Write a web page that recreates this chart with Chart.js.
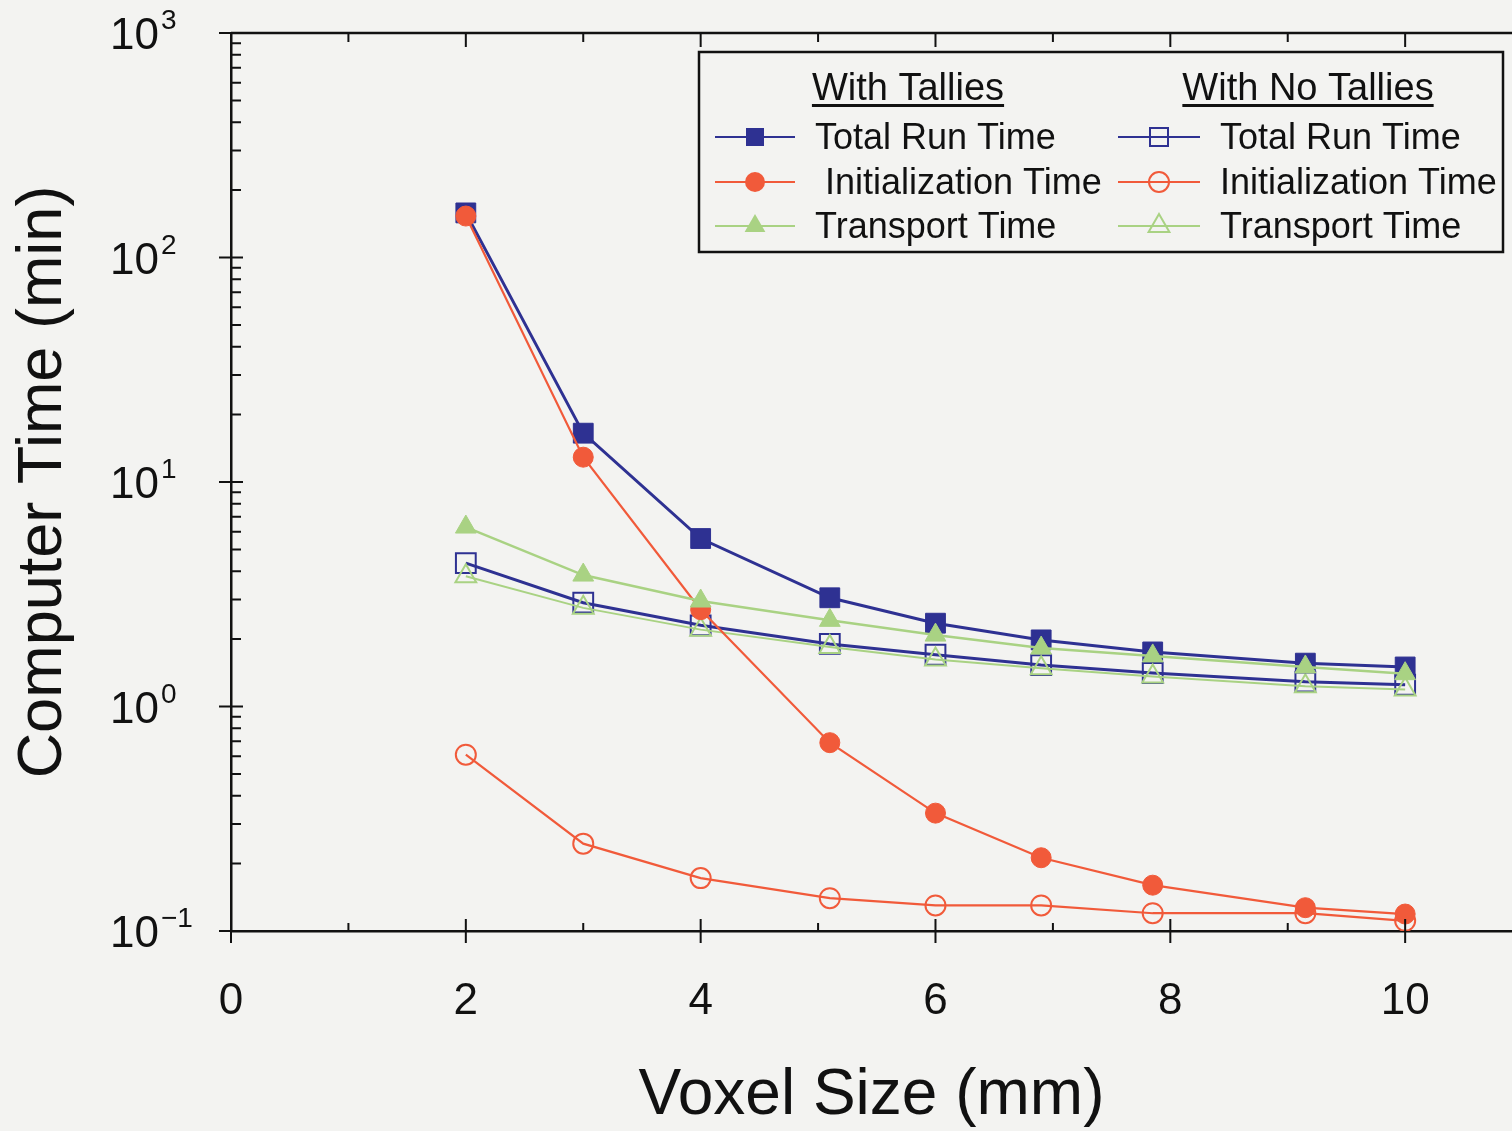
<!DOCTYPE html>
<html>
<head>
<meta charset="utf-8">
<script src="https://cdn.jsdelivr.net/npm/chart.js@4.4.1/dist/chart.umd.min.js"></script>
<style>
html, body { margin: 0; padding: 0; background: #f3f3f1; }
canvas { display: block; }
</style>
</head>
<body>
<canvas id="timeChart" width="1512" height="1131"></canvas>
<script>
// voxel sizes (mm)
const voxelSize = [2, 3, 4, 5.1, 6, 6.9, 7.85, 9.15, 10];

// with tallies (min)
const totalTallies = [158, 16.5, 5.6, 3.05, 2.35, 1.98, 1.75, 1.56, 1.5];
const initTallies = [153, 12.9, 2.7, 0.69, 0.335, 0.212, 0.16, 0.127, 0.119];
const transportTallies = [6.3, 3.85, 2.95, 2.42, 2.08, 1.82, 1.68, 1.5, 1.4];

// with no tallies (min)
const totalNoTallies = [4.35, 2.9, 2.3, 1.9, 1.7, 1.53, 1.41, 1.29, 1.25];
const initNoTallies = [0.61, 0.245, 0.172, 0.14, 0.13, 0.13, 0.12, 0.12, 0.111];
const transportNoTallies = [3.8, 2.75, 2.2, 1.84, 1.62, 1.48, 1.36, 1.23, 1.19];

const xTicks = [0, 2, 4, 6, 8, 10];
const yTicks = [0.1, 1, 10, 100, 1000];
const yExponents = ['-1', '0', '1', '2', '3'];

const BG = '#f3f3f1';
const BLUE = '#2e3192';
const RED = '#f15a3a';
const GREEN = '#a9d283';
const FONT = "'Liberation Sans', Arial, sans-serif";

const pts = (ys) => voxelSize.map((x, i) => ({ x: x, y: ys[i] }));

function series(label, ys, color, style, filled, width, order, r) {
    return {
        label: label,
        data: pts(ys),
        borderColor: color,
        backgroundColor: color,
        borderWidth: width,
        pointStyle: style,
        pointRadius: r,
        pointBackgroundColor: filled ? color : 'rgba(0,0,0,0)',
        pointBorderColor: color,
        pointBorderWidth: filled ? 1 : 2,
        filled: filled,
        order: order,
        tension: 0
    };
}

const datasets = [
    series('Total Run Time', totalTallies, BLUE, 'rect', true, 3, 2, 14),
    series(' Initialization Time', initTallies, RED, 'circle', true, 2.2, 1, 10),
    series('Transport Time', transportTallies, GREEN, 'triangle', true, 2.5, 0, 12),
    series('Total Run Time', totalNoTallies, BLUE, 'rect', false, 3, 5, 14),
    series('Initialization Time', initNoTallies, RED, 'circle', false, 2.2, 4, 10),
    series('Transport Time', transportNoTallies, GREEN, 'triangle', false, 2, 3, 12)
];

function drawMarker(ctx, style, x, y, filled, color) {
    ctx.save();
    ctx.fillStyle = color;
    ctx.strokeStyle = color;
    ctx.lineWidth = 2;
    ctx.beginPath();
    if (style === 'rect') {
        ctx.rect(x - 9, y - 9, 18, 18);
    } else if (style === 'circle') {
        ctx.arc(x, y, 10, 0, Math.PI * 2);
    } else {
        ctx.moveTo(x, y - 12);
        ctx.lineTo(x + 10.4, y + 6);
        ctx.lineTo(x - 10.4, y + 6);
        ctx.closePath();
    }
    if (filled) ctx.fill(); else ctx.stroke();
    ctx.restore();
}

const bgPlugin = {
    id: 'bg',
    beforeDraw(chart) {
        const ctx = chart.ctx;
        ctx.save();
        ctx.fillStyle = BG;
        ctx.fillRect(0, 0, chart.width, chart.height);
        ctx.restore();
    }
};

const axisPlugin = {
    id: 'axisTicks',
    afterDraw(chart) {
        const ctx = chart.ctx;
        const xs = chart.scales.x, ys = chart.scales.y;
        const a = chart.chartArea;
        ctx.save();
        ctx.strokeStyle = '#111';
        ctx.lineWidth = 2.5;
        // top frame line
        ctx.beginPath();
        ctx.moveTo(a.left, a.top);
        ctx.lineTo(a.right, a.top);
        ctx.stroke();
        ctx.lineWidth = 2;
        ctx.beginPath();
        for (let v = 0; v <= 10; v++) {
            const px = xs.getPixelForValue(v);
            const major = v % 2 === 0;
            ctx.moveTo(px, a.bottom - (major ? 12 : 8));
            ctx.lineTo(px, a.bottom + (major ? 12 : 0));
            ctx.moveTo(px, a.top);
            ctx.lineTo(px, a.top + (major ? 14 : 9));
        }
        for (let d = -1; d <= 3; d++) {
            const base = Math.pow(10, d);
            const py = ys.getPixelForValue(base);
            ctx.moveTo(a.left - 12, py);
            ctx.lineTo(a.left + 12, py);
            if (d < 3) {
                for (let m = 2; m <= 9; m++) {
                    const my = ys.getPixelForValue(base * m);
                    ctx.moveTo(a.left, my);
                    ctx.lineTo(a.left + 10, my);
                }
            }
        }
        ctx.stroke();
        // y tick labels 10^n
        ctx.fillStyle = '#111';
        ctx.textAlign = 'left';
        ctx.textBaseline = 'alphabetic';
        yTicks.forEach((v, i) => {
            const py = ys.getPixelForValue(v);
            ctx.font = '44px ' + FONT;
            ctx.fillText('10', 110, py + 16);
            const w = ctx.measureText('10').width;
            ctx.font = '28px ' + FONT;
            ctx.fillText(yExponents[i].replace('-', '\u2212'), 110 + w + 2, py - 4);
        });
        ctx.restore();
    }
};

const legendPlugin = {
    id: 'tallyLegend',
    afterDraw(chart) {
        const ctx = chart.ctx;
        const ds = chart.data.datasets;
        ctx.save();
        ctx.fillStyle = BG;
        ctx.fillRect(699, 52, 804, 200);
        ctx.strokeStyle = '#111';
        ctx.lineWidth = 2.5;
        ctx.strokeRect(699, 52, 804, 200);

        ctx.fillStyle = '#111';
        ctx.textBaseline = 'alphabetic';
        ctx.textAlign = 'center';
        ctx.font = '38px ' + FONT;
        const headers = [['With Tallies', 908], ['With No Tallies', 1308]];
        headers.forEach(([t, cx]) => {
            ctx.fillText(t, cx, 100);
            const w = ctx.measureText(t).width;
            ctx.fillRect(cx - w / 2, 104, w, 3);
        });

        const cols = [[715, 795, 815], [1118, 1200, 1220]];
        const rows = [137, 182, 226];
        ctx.textAlign = 'left';
        ctx.textBaseline = 'middle';
        ctx.font = '36px ' + FONT;
        ds.forEach((d, i) => {
            const c = cols[Math.floor(i / 3)];
            const y = rows[i % 3];
            ctx.strokeStyle = d.borderColor;
            ctx.lineWidth = 2;
            ctx.beginPath();
            ctx.moveTo(c[0], y);
            ctx.lineTo(c[1], y);
            ctx.stroke();
            drawMarker(ctx, d.pointStyle, (c[0] + c[1]) / 2, y, d.filled, d.borderColor);
            ctx.fillStyle = '#111';
            ctx.fillText(d.label, c[2], y + 2);
        });
        ctx.restore();
    }
};

new Chart(document.getElementById('timeChart').getContext('2d'), {
    type: 'line',
    data: { datasets: datasets },
    options: {
        responsive: false,
        animation: false,
        layout: { autoPadding: false, padding: { top: 33, right: 0, left: 0, bottom: 0 } },
        scales: {
            x: {
                type: 'linear',
                min: 0,
                max: 10.91,
                afterBuildTicks: (s) => { s.ticks = xTicks.map(v => ({ value: v })); },
                afterFit: (s) => { s.height = 200; },
                grid: { display: false, drawTicks: false },
                border: { display: true, color: '#111', width: 2.5 },
                ticks: {
                    color: '#111',
                    font: { family: FONT, size: 44 },
                    padding: 44,
                    maxRotation: 0,
                    autoSkip: false
                },
                title: {
                    display: true,
                    text: 'Voxel Size (mm)',
                    color: '#111',
                    font: { family: FONT, size: 64 },
                    padding: { top: 0, bottom: -4 }
                }
            },
            y: {
                type: 'logarithmic',
                min: 0.1,
                max: 1000,
                afterFit: (s) => { s.width = 231; },
                grid: { display: false, drawTicks: false },
                border: { display: true, color: '#111', width: 2.5 },
                ticks: { display: false },
                title: {
                    display: true,
                    text: 'Computer Time (min)',
                    color: '#111',
                    font: { family: FONT, size: 63 },
                    padding: { top: 6, bottom: 0 }
                }
            }
        },
        plugins: {
            legend: { display: false },
            tooltip: { enabled: false }
        }
    },
    plugins: [bgPlugin, axisPlugin, legendPlugin]
});
</script>
</body>
</html>
